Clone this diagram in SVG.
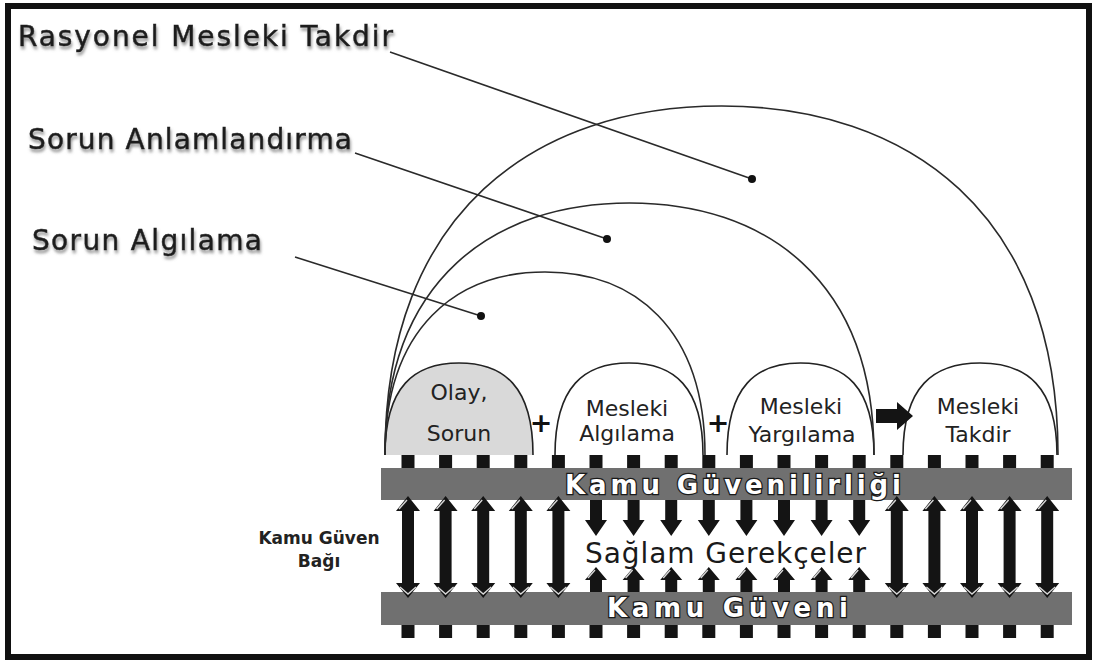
<svg xmlns="http://www.w3.org/2000/svg" width="1094" height="664" viewBox="0 0 1094 664">
  <defs>
    <style>
      .lbl { font-family: "DejaVu Sans", Verdana, sans-serif; font-size: 28px; fill: #1e1e1e; stroke: #1e1e1e; stroke-width: 0.5; filter: url(#soft-shadow); }
      .dome-t { font-family: "DejaVu Sans", Verdana, sans-serif; font-size: 22px; fill: #222; text-anchor: middle; }
      .plus { font-family: "DejaVu Sans", Verdana, sans-serif; font-size: 27px; font-weight: bold; fill: #111; text-anchor: middle; }
      .bar-t { font-family: "DejaVu Sans", Verdana, sans-serif; font-size: 26px; font-weight: bold; fill: #fff; stroke: #1a1a1a; stroke-width: 2.5; paint-order: stroke; }
      .mid-t { font-family: "DejaVu Sans", Verdana, sans-serif; font-size: 28px; fill: #1a1a1a; stroke: #fff; stroke-width: 4; paint-order: stroke; }
      .side-t { font-family: "DejaVu Sans", Verdana, sans-serif; font-size: 17px; font-weight: bold; fill: #222; text-anchor: middle; }
      .dome { stroke: #222; stroke-width: 1.6; }
      .arc { fill: none; stroke: #2a2a2a; stroke-width: 1.6; }
      .leader { fill: none; stroke: #2a2a2a; stroke-width: 1.6; }
      .dot { fill: #111; }
      .bar { fill: #707070; }
      .tie { fill: #141414; }
      .arrow { fill: #141414; }
      .hl { fill: none; stroke: #d8d8d8; stroke-width: 1.4; }
    </style>
    <filter id="soft-shadow" x="-5%" y="-30%" width="110%" height="180%">
      <feDropShadow dx="1" dy="3" stdDeviation="1.4" flood-color="#777" flood-opacity="0.8"/>
    </filter>
    <rect id="tie" x="-6.5" y="0" width="13" height="13" class="tie"/>
    <g id="double-arrow">
      <path class="arrow" d="M0,496 L12,511 L6,511 L6,583 L12,583 L0,598 L-12,583 L-6,583 L-6,511 L-12,511 Z"/>
      <path class="hl" d="M-8,587 L0,594 L8,587"/>
      <path class="hl" d="M-9,509 L-1,500"/>
    </g>
    <g id="down-arrow">
      <path class="arrow" d="M-6,500 L6,500 L6,520 L11,520 L0,536 L-11,520 L-6,520 Z"/>
    </g>
    <g id="up-arrow">
      <path class="arrow" d="M0,567 L11,580 L6,580 L6,592 L-6,592 L-6,580 L-11,580 Z"/>
      <path class="hl" d="M-8,578 L-1,570"/>
    </g>
  </defs>

  <rect x="0" y="0" width="1094" height="664" fill="#fff"/>
  <!-- outer frame -->
  <rect id="frame" x="8" y="6" width="1081" height="651" fill="none" stroke="#111" stroke-width="6"/>

  <!-- small domes: the four stages -->
  <g id="node-olay">
    <path class="dome" fill="#d9d9d9" d="M385,455 C385,386 414.6,363 459,363 C503.4,363 533,386 533,455"/>
    <text class="dome-t" x="459" y="400">Olay,</text>
    <text class="dome-t" x="459" y="441">Sorun</text>
  </g>
  <g id="node-algilama">
    <path class="dome" fill="#fff" d="M555,455 C555,386 584.6,363 629,363 C673.4,363 703,386 703,455"/>
    <text class="dome-t" x="627" y="416">Mesleki</text>
    <text class="dome-t" x="627" y="441">Algılama</text>
  </g>
  <g id="node-yargilama">
    <path class="dome" fill="#fff" d="M727,455 C727,386 756.4,363 800.5,363 C844.6,363 874,386 874,455"/>
    <text class="dome-t" x="801" y="414">Mesleki</text>
    <text class="dome-t" x="802" y="442">Yargılama</text>
  </g>
  <g id="node-takdir">
    <path class="dome" fill="#fff" d="M903,455 C903,386 933.8,363 980,363 C1026.2,363 1057,386 1057,455"/>
    <text class="dome-t" x="978" y="414">Mesleki</text>
    <text class="dome-t" x="978" y="442">Takdir</text>
  </g>

  <!-- operators between stages -->
  <g id="operators">
    <text class="plus" x="541" y="432">+</text>
    <text class="plus" x="718" y="432">+</text>
    <path class="arrow" d="M876,409 L897,409 L897,402 L913,416 L897,430 L897,423 L876,423 Z"/>
  </g>

  <!-- enclosing arcs -->
  <g id="arc-sorun-algilama">
    <path class="arc" d="M385,455 C385,326.9 457,272 545,272 C633,272 705,326.9 705,455"/>
  </g>
  <g id="arc-sorun-anlamlandirma">
    <path class="arc" d="M385,455 C385,278.6 495,203 629.5,203 C764,203 874,278.6 874,455"/>
  </g>
  <g id="arc-rasyonel">
    <path class="arc" d="M385,455 C385,210.7 536.5,106 721.5,106 C906.5,106 1058,210.7 1058,455"/>
  </g>

  <!-- arc labels -->
  <g id="label-rasyonel">
    <text class="lbl" x="18" y="46" textLength="375" lengthAdjust="spacing">Rasyonel Mesleki Takdir</text>
  </g>
  <g id="label-anlamlandirma">
    <text class="lbl" x="28" y="149" textLength="324" lengthAdjust="spacing">Sorun Anlamlandırma</text>
  </g>
  <g id="label-algilama">
    <text class="lbl" x="32" y="250" textLength="230" lengthAdjust="spacing">Sorun Algılama</text>
  </g>

  <!-- trust bars with ties -->
  <g id="bar-guvenilirlik">
    <rect class="bar" x="381" y="468" width="691" height="32"/>
    <g>
      <use href="#tie" x="408" y="455"/><use href="#tie" x="445.6" y="455"/><use href="#tie" x="483.2" y="455"/>
      <use href="#tie" x="520.8" y="455"/><use href="#tie" x="558.4" y="455"/><use href="#tie" x="596" y="455"/>
      <use href="#tie" x="633.6" y="455"/><use href="#tie" x="671.2" y="455"/><use href="#tie" x="708.8" y="455"/>
      <use href="#tie" x="746.4" y="455"/><use href="#tie" x="784" y="455"/><use href="#tie" x="821.6" y="455"/>
      <use href="#tie" x="859.2" y="455"/><use href="#tie" x="896.8" y="455"/><use href="#tie" x="934.4" y="455"/>
      <use href="#tie" x="972" y="455"/><use href="#tie" x="1009.6" y="455"/><use href="#tie" x="1047.2" y="455"/>
    </g>
    <text class="bar-t" x="565" y="494" textLength="336" lengthAdjust="spacing">Kamu  Güvenilirliği</text>
  </g>
  <g id="bar-guven">
    <rect class="bar" x="381" y="592" width="691" height="33"/>
    <g>
      <use href="#tie" x="408" y="625"/><use href="#tie" x="445.6" y="625"/><use href="#tie" x="483.2" y="625"/>
      <use href="#tie" x="520.8" y="625"/><use href="#tie" x="558.4" y="625"/><use href="#tie" x="596" y="625"/>
      <use href="#tie" x="633.6" y="625"/><use href="#tie" x="671.2" y="625"/><use href="#tie" x="708.8" y="625"/>
      <use href="#tie" x="746.4" y="625"/><use href="#tie" x="784" y="625"/><use href="#tie" x="821.6" y="625"/>
      <use href="#tie" x="859.2" y="625"/><use href="#tie" x="896.8" y="625"/><use href="#tie" x="934.4" y="625"/>
      <use href="#tie" x="972" y="625"/><use href="#tie" x="1009.6" y="625"/><use href="#tie" x="1047.2" y="625"/>
    </g>
    <text class="bar-t" x="607" y="617" textLength="241" lengthAdjust="spacing">Kamu  Güveni</text>
  </g>

  <g id="label-saglam">
    <text class="mid-t" x="585" y="563" textLength="281" lengthAdjust="spacing">Sağlam Gerekçeler</text>
  </g>
  <g id="label-bag">
    <text class="side-t" x="319" y="544">Kamu Güven</text>
    <text class="side-t" x="319" y="567">Bağı</text>
  </g>

  <!-- connectors: leader lines and bond arrows -->
  <g id="connectors">
    <line class="leader" x1="390" y1="52" x2="752" y2="179"/>
    <circle class="dot" cx="752" cy="179" r="4"/>
    <line class="leader" x1="355" y1="153" x2="607" y2="239"/>
    <circle class="dot" cx="607" cy="239" r="4"/>
    <line class="leader" x1="295" y1="257" x2="481" y2="316"/>
    <circle class="dot" cx="481" cy="316" r="4"/>

    <use href="#double-arrow" x="408"/><use href="#double-arrow" x="445.6"/><use href="#double-arrow" x="483.2"/>
    <use href="#double-arrow" x="520.8"/><use href="#double-arrow" x="558.4"/>
    <use href="#down-arrow" x="596"/><use href="#down-arrow" x="633.6"/><use href="#down-arrow" x="671.2"/>
    <use href="#down-arrow" x="708.8"/><use href="#down-arrow" x="746.4"/><use href="#down-arrow" x="784"/>
    <use href="#down-arrow" x="821.6"/><use href="#down-arrow" x="859.2"/>
    <use href="#up-arrow" x="596"/><use href="#up-arrow" x="633.6"/><use href="#up-arrow" x="671.2"/>
    <use href="#up-arrow" x="708.8"/><use href="#up-arrow" x="746.4"/><use href="#up-arrow" x="784"/>
    <use href="#up-arrow" x="821.6"/><use href="#up-arrow" x="859.2"/>
    <use href="#double-arrow" x="896.8"/><use href="#double-arrow" x="934.4"/><use href="#double-arrow" x="972"/>
    <use href="#double-arrow" x="1009.6"/><use href="#double-arrow" x="1047.2"/>
  </g>
</svg>
